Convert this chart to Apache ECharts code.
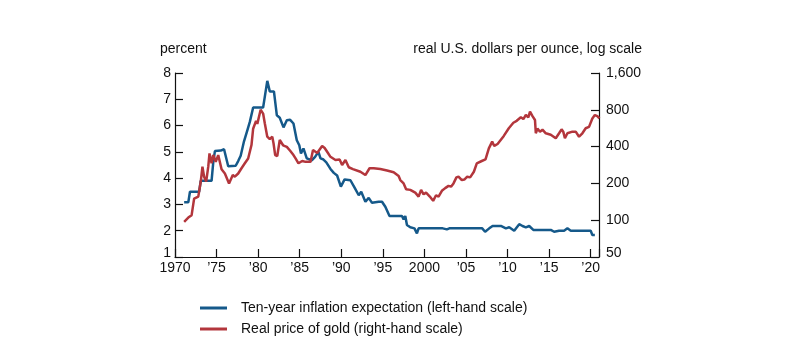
<!DOCTYPE html>
<html><head><meta charset="utf-8">
<script src="https://cdn.jsdelivr.net/npm/echarts@6/dist/echarts.min.js"></script>
<style>html,body{margin:0;padding:0;background:#fff}#c{width:800px;height:363px}</style>
</head><body><div id="c"></div>
<script>
const inflYears = [1971.1,1971.6,1971.8,1972.9,1973.1,1974.4,1974.6,1974.8,1975.5,1975.9,1976.05,1976.4,1977.3,1977.6,1977.9,1978.3,1978.7,1979.0,1979.2,1979.4,1980.6,1980.8,1981.1,1981.4,1981.6,1981.9,1982.25,1982.6,1983.05,1983.45,1983.85,1984.25,1984.65,1984.95,1985.15,1985.45,1985.65,1985.85,1986.45,1986.85,1987.25,1987.5,1987.8,1988.2,1988.7,1989.1,1989.5,1989.95,1990.4,1990.6,1991.1,1991.6,1992.1,1992.4,1992.9,1993.3,1993.7,1994.5,1994.9,1995.3,1995.8,1997.3,1997.5,1997.7,1997.9,1998.3,1998.8,1999.1,1999.3,2001.7,2001.9,2002.2,2002.7,2003.0,2005.0,2005.1,2005.3,2006.95,2007.3,2007.8,2008.2,2009.2,2009.4,2009.8,2010.2,2010.8,2011.4,2011.8,2012.2,2012.6,2013.1,2015.2,2015.6,2015.8,2016.2,2016.8,2017.2,2017.6,2020.0,2020.2,2020.5];
const inflValues = [3.08,3.08,3.48,3.48,3.9,3.9,4.6,5.03,5.05,5.1,5.05,4.45,4.47,4.65,4.85,5.4,5.82,6.14,6.15,6.69,6.69,7.09,7.7,7.3,7.35,7.3,6.39,6.3,5.93,6.2,6.22,6.08,5.44,5.25,4.94,5.13,4.94,4.75,4.68,4.81,5.0,4.75,4.72,4.6,4.35,4.2,4.1,3.68,3.95,3.97,3.92,3.64,3.35,3.48,3.1,3.25,3.06,3.1,3.1,2.91,2.56,2.56,2.43,2.56,2.22,2.13,2.09,1.9,2.09,2.09,2.13,2.09,2.05,2.09,2.09,2.05,2.09,2.09,1.96,2.09,2.18,2.18,2.25,2.09,2.13,2.0,2.25,2.18,2.13,2.18,2.03,2.03,1.96,1.9,2.0,2.0,2.09,2.0,2.0,1.84,1.84];

const goldYears = [1971.1,1971.6,1972.0,1972.3,1972.8,1973.1,1973.3,1973.5,1973.75,1974.0,1974.15,1974.4,1974.6,1974.9,1975.2,1975.6,1976.0,1976.5,1976.95,1977.2,1977.6,1978.0,1978.4,1978.8,1979.2,1979.4,1979.75,1979.9,1980.3,1980.6,1980.8,1981.1,1981.4,1981.7,1981.85,1982.05,1982.3,1982.6,1983.0,1983.45,1983.85,1984.25,1984.5,1984.85,1985.3,1985.7,1986.3,1986.6,1987.1,1987.7,1988.0,1988.3,1988.7,1989.3,1989.8,1990.1,1990.5,1990.9,1991.4,1992.3,1992.9,1993.4,1993.9,1994.7,1995.5,1996.3,1996.9,1997.1,1997.5,1997.8,1998.3,1998.9,1999.3,1999.6,1999.9,2000.2,2000.65,2001.05,2001.4,2001.7,2002.1,2002.5,2002.9,2003.2,2003.5,2003.85,2004.1,2004.5,2004.8,2005.15,2005.5,2005.95,2006.3,2006.5,2006.9,2007.35,2007.75,2008.15,2008.4,2008.8,2009.0,2009.55,2010.15,2010.7,2011.1,2011.6,2011.9,2012.2,2012.5,2012.7,2013.0,2013.3,2013.4,2013.6,2013.9,2014.2,2014.6,2015.2,2015.8,2016.2,2016.5,2016.7,2016.9,2017.2,2017.8,2018.2,2018.6,2019.0,2019.4,2019.8,2020.2,2020.5,2020.8,2021.05];
const goldValues = [97,105,110,150,156,207,274,227,207,274,352,292,342,301,341,261,241,200,234,227,241,266,292,320,412,560,650,614,800,745,620,482,460,482,426,341,335,453,410,398,370,341,320,292,305,300,300,375,355,405,390,363,330,311,314,283,311,271,262,249,234,266,266,262,255,247,230,213,200,179,177,168,156,177,163,168,156,144,160,156,174,183,191,188,200,224,227,213,215,227,224,249,292,301,305,314,387,439,405,420,430,489,565,627,650,695,672,725,695,772,710,660,514,562,530,550,514,500,468,514,554,530,468,514,530,530,482,514,565,580,680,725,710,680];

const leftTicks = [1,2,3,4,5,6,7,8];
const rightTickLabels = ['50','100','200','400','800','1,600'];
const seriesNames = ['Ten-year inflation expectation (left-hand scale)','Real price of gold (right-hand scale)'];
const axisTitles = ['percent','real U.S. dollars per ounce, log scale'];

const BLUE = '#15598a', RED = '#b3363c';
const FONT = 'Liberation Sans, Arial, Helvetica, sans-serif';
const lbl = {fontFamily: FONT, fontSize: 14, color: '#111'};

const chart = echarts.init(document.getElementById('c'), null, {renderer: 'canvas'});
chart.setOption({
  animation: false,
  textStyle: {fontFamily: FONT},
  title: [
    {text: axisTitles[0], left: 160, top: 42, padding: 0, textStyle: {fontFamily: FONT, fontSize: 14, fontWeight: 'normal', color: '#111'}},
    {text: axisTitles[1], right: 158, top: 42, padding: 0, textStyle: {fontFamily: FONT, fontSize: 14, fontWeight: 'normal', color: '#111'}}
  ],
  grid: {left: 175, right: 201, top: 73, bottom: 106, containLabel: false},
  legend: {
    orient: 'vertical', left: 200, top: 301, padding: 0, itemGap: 7,
    icon: 'rect', itemWidth: 27, itemHeight: 3,
    textStyle: Object.assign({}, lbl, {padding: [0, 0, 0, 9]}),
    data: seriesNames
  },
  xAxis: {
    type: 'value', min: 1970, max: 2021, interval: 5,
    axisLine: {lineStyle: {color: '#111', width: 1.2}},
    axisTick: {inside: true, length: 8, lineStyle: {color: '#111', width: 1.2}},
    splitLine: {show: false},
    axisLabel: Object.assign({}, lbl, {margin: 4, formatter: function (v) {
      if (v % 5 !== 0) return '';
      if (v === 1970 || v === 2000) return String(v);
      return '\u2019' + String(v).slice(2);
    }})
  },
  yAxis: [
    {
      type: 'value', min: leftTicks[0], max: leftTicks[leftTicks.length - 1], interval: 1, position: 'left',
      axisLine: {show: true, lineStyle: {color: '#111', width: 1.2}},
      axisTick: {show: true, inside: true, length: 8, lineStyle: {color: '#111', width: 1.2}},
      splitLine: {show: false},
      axisLabel: Object.assign({}, lbl, {margin: 4, formatter: function (v) { return v === 1 ? '{b|1}' : String(v); },
        rich: {b: {fontFamily: FONT, fontSize: 14, color: '#111', padding: [0, 0, 8, 0]}}})
    },
    {
      type: 'value', min: 0, max: rightTickLabels.length - 1, interval: 1, position: 'right',
      axisLine: {show: true, lineStyle: {color: '#111', width: 1.2}},
      axisTick: {show: true, inside: true, length: 8, lineStyle: {color: '#111', width: 1.2}},
      splitLine: {show: false},
      axisLabel: Object.assign({}, lbl, {margin: 7, formatter: function (v) {
        const s = rightTickLabels[Math.round(v)];
        return v === 0 ? '{b|' + s + '}' : s;
      }, rich: {b: {fontFamily: FONT, fontSize: 14, color: '#111', padding: [0, 0, 8, 0]}}})
    }
  ],
  series: [
    {
      name: seriesNames[0], type: 'line', yAxisIndex: 0, symbol: 'none',
      lineStyle: {color: BLUE, width: 2.5}, itemStyle: {color: BLUE},
      data: inflYears.map((y, i) => [y, inflValues[i]])
    },
    {
      name: seriesNames[1], type: 'line', yAxisIndex: 1, symbol: 'none',
      lineStyle: {color: RED, width: 2.5}, itemStyle: {color: RED},
      data: goldYears.map((y, i) => [y, Math.log2(goldValues[i] / 50)])
    }
  ]
});
</script></body></html>
